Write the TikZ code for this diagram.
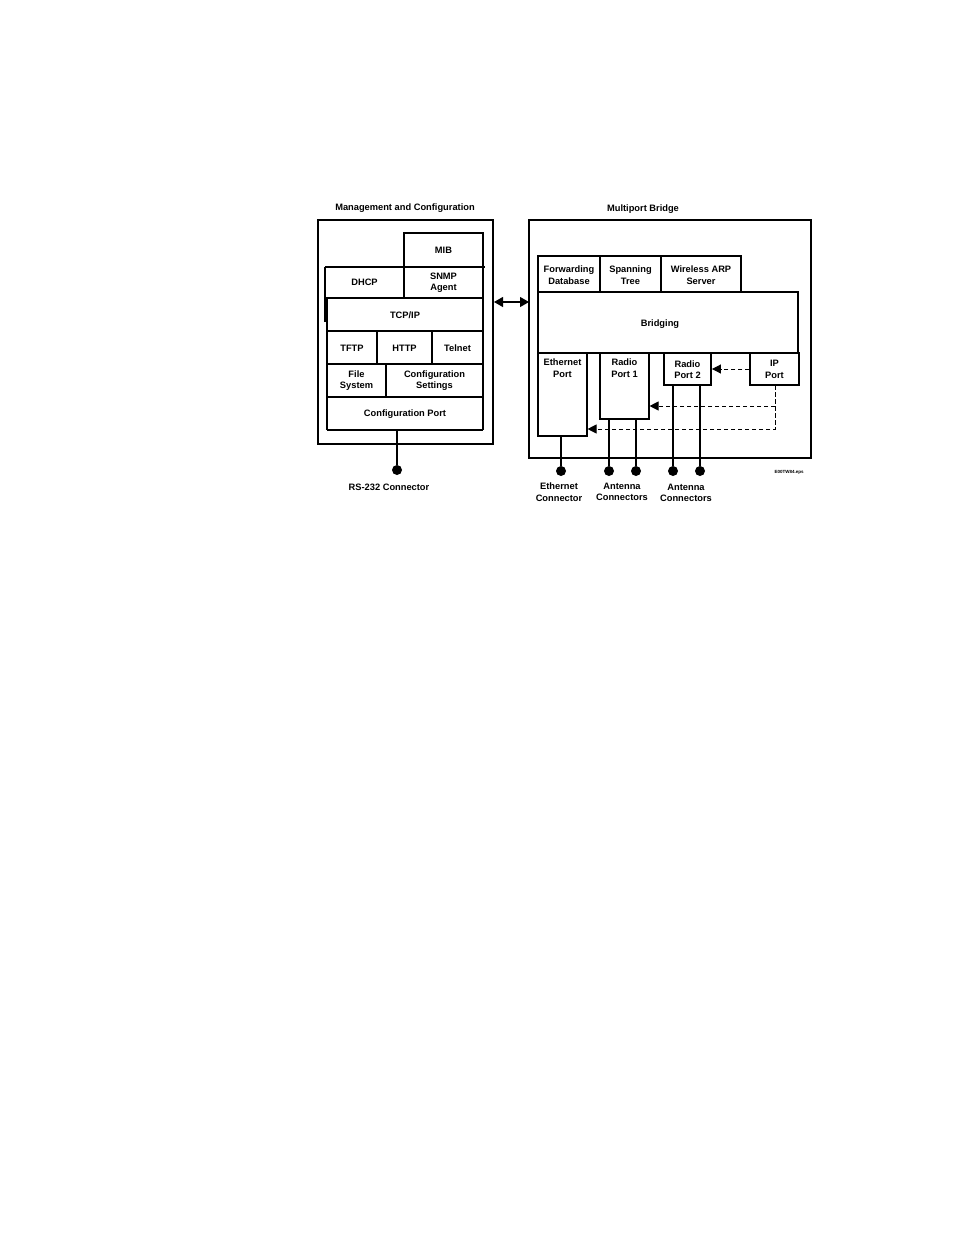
\documentclass[tikz,border=0pt]{standalone}
\usepackage{fontspec}
\setmainfont{Liberation Sans}
\usetikzlibrary{arrows.meta}
\begin{document}
\begin{tikzpicture}[x=1pt,y=-1pt,
  lbl/.style={font=\fontsize{9.3}{11.5}\selectfont\bfseries, align=center, inner sep=0pt},
  bx/.style={draw, line width=1.1pt},
  conn/.style={line width=1.1pt},
  dot/.style={circle, fill=black, minimum size=10pt, inner sep=0pt},
  dsh/.style={dashed, dash pattern=on 4.5pt off 2.5pt, line width=1pt, -{Triangle[length=9pt,width=9pt]}},
]
\useasboundingbox (0,0) rectangle (954,1235);
% Left block
\node[lbl] (ltitle) at (405,208) {Management and Configuration};
\draw[bx] (318,220) rectangle (493,444);
\draw[bx] (404,233) rectangle (483,267);
\node[lbl] (mib) at (443.5,250) {MIB};
\draw[bx] (325,267) -- (485,267);
\draw[bx] (325,267) -- (325,322);
\draw[bx] (404,267) -- (404,298);
\draw[bx] (483,267) -- (483,430);
\node[lbl] (dhcp) at (364.5,282.5) {DHCP};
\node[lbl] (snmp) at (443.5,282.5) {SNMP\\Agent};
\draw[bx] (325,298) -- (483,298);
\draw[bx] (327,298) -- (327,430);
\node[lbl] (tcpip) at (405,315) {TCP/IP};
\draw[bx] (327,331) -- (483,331);
\draw[bx] (377,331) -- (377,364);
\draw[bx] (432,331) -- (432,364);
\node[lbl] (tftp) at (352,348) {TFTP};
\node[lbl] (http) at (404.5,348) {HTTP};
\node[lbl] (telnet) at (457.5,348) {Telnet};
\draw[bx] (327,364) -- (483,364);
\draw[bx] (386,364) -- (386,397);
\node[lbl] (fs) at (356.5,380.5) {File\\System};
\node[lbl] (cs) at (434.5,380.5) {Configuration\\Settings};
\draw[bx] (327,397) -- (483,397);
\draw[bx] (327,430) -- (483,430);
\node[lbl] (cport) at (405,414) {Configuration Port};
\coordinate (cpb) at (397,430);
\node[dot] (rsdot) at (397,470) {};
\draw[conn] (cpb) -- (rsdot);
\node[lbl] (rslbl) at (389,487) {RS-232 Connector};
% double arrow
\coordinate (la) at (494,302);
\coordinate (ra) at (529,302);
\draw[line width=1.1pt, {Triangle[length=9pt,width=10pt]}-{Triangle[length=9pt,width=10pt]}] (la) -- (ra);
% Right block
\node[lbl] (rtitle) at (643,209) {Multiport Bridge};
\draw[bx] (529,220) rectangle (811,458);
\draw[bx] (538,256) rectangle (600,292);
\draw[bx] (600,256) rectangle (661,292);
\draw[bx] (661,256) rectangle (741,292);
\node[lbl] (fdb) at (569,275) {Forwarding\\Database};
\node[lbl] (st) at (630.5,275) {Spanning\\Tree};
\node[lbl] (warp) at (701,275) {Wireless ARP\\Server};
\draw[bx] (538,292) rectangle (798,353);
\node[lbl] (bridging) at (660,324) {Bridging};
\node[bx, minimum width=49pt, minimum height=83pt, inner sep=0pt] (eth) at (562.5,394.5) {};
\node[lbl, anchor=north] at (562.5,359) {Ethernet\\Port};
\node[bx, minimum width=49pt, minimum height=66pt, inner sep=0pt] (rp1) at (624.5,386) {};
\node[lbl, anchor=north] at (624.5,359) {Radio\\Port 1};
\node[draw, line width=1.9pt, minimum width=47pt, minimum height=32pt, inner sep=0pt] (rp2) at (687.5,369) {};
\node[lbl] at (687.5,369.5) {Radio\\Port 2};
\node[bx, minimum width=49pt, minimum height=32pt, inner sep=0pt] (ip) at (774.5,369) {};
\node[lbl] at (774.5,369.5) {IP\\Port};
% dashed
\draw[dsh] (ip.west) -- (rp2.east);
\coordinate (ipb) at (775,385);
\coordinate (d1) at (775,406);
\coordinate (d2) at (775,429);
\draw[dsh] (ipb) -- (d1) -- (rp1.east |- d1);
\draw[dsh] (d1) -- (d2) -- (eth.east |- d2);
% connectors
\node[dot] (ed) at (561,471) {};
\node[dot] (a1) at (609,471) {};
\node[dot] (a2) at (636,471) {};
\node[dot] (a3) at (673,471) {};
\node[dot] (a4) at (700,471) {};
\draw[conn] (eth.south -| ed) -- (ed);
\draw[conn] (rp1.south -| a1) -- (a1);
\draw[conn] (rp1.south -| a2) -- (a2);
\draw[conn] (rp2.south -| a3) -- (a3);
\draw[conn] (rp2.south -| a4) -- (a4);
\node[lbl] (el) at (559,492) {Ethernet\\Connector};
\node[lbl] (al1) at (622,492) {Antenna\\Connectors};
\node[lbl] (al2) at (686,493) {Antenna\\Connectors};
\node[font=\fontsize{4.5}{5}\selectfont\bfseries, inner sep=0pt] (tag) at (789,472) {E00TW84.eps};
\end{tikzpicture}
\end{document}
